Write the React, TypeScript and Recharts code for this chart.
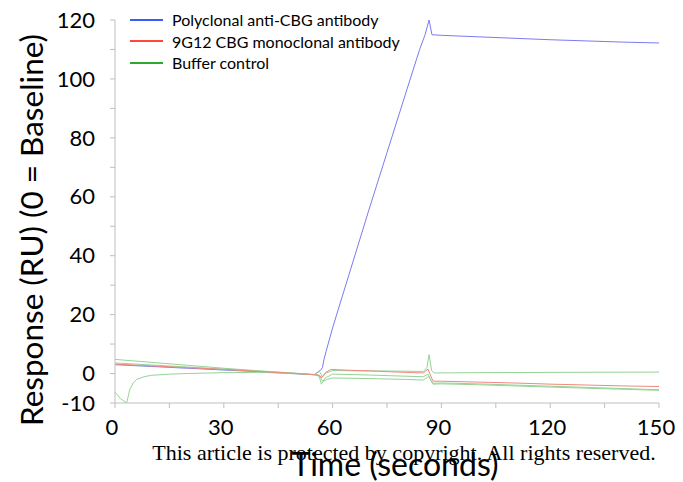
import React from 'react';
import { LineChart, Line, XAxis, YAxis } from 'recharts';

// Time points (s) and responses (RU)
const polyT = [0, 10, 20, 30, 40, 50, 55, 56, 56.6, 57.2, 57.6, 58.2, 60, 65, 70, 75, 80, 84, 85.5, 86.6, 87.4, 90, 100, 110, 120, 130, 140, 150];
const polyY = [3.0, 2.4, 1.8, 1.2, 0.6, -0.1, -0.4, 0.5, 1.0, 2.0, 4.7, 7.5, 15.5, 35.5, 55.5, 75, 94.5, 110, 115, 120, 115, 114.8, 114.3, 113.8, 113.3, 112.9, 112.5, 112.2];

const monoT = [0, 10, 20, 30, 40, 50, 55, 56.3, 57, 58, 59.5, 65, 70, 80, 85, 86.3, 87.7, 90, 100, 110, 120, 130, 140, 150];
const monoY = [3.2, 2.6, 2.0, 1.4, 0.7, 0.0, -0.4, -0.6, -1.4, 0.3, 1.4, 1.1, 0.9, 0.4, 0.2, 1.5, -2.6, -2.6, -2.9, -3.2, -3.6, -3.9, -4.2, -4.4];

const buf1T = [0, 10, 20, 30, 40, 50, 55, 56.3, 57.2, 58.2, 60, 70, 80, 85, 86, 86.6, 87.3, 88, 100, 120, 150];
const buf1Y = [4.8, 3.8, 2.8, 1.8, 0.9, 0.1, -0.3, 0.9, -1.2, 0.2, 1.0, 0.9, 0.8, 0.7, 2.0, 6.4, 1.0, 0.2, 0.3, 0.4, 0.5];

const buf2T = [0, 10, 20, 30, 40, 50, 55, 56.2, 56.9, 58, 60, 70, 80, 85, 86.3, 87.6, 90, 100, 120, 150];
const buf2Y = [3.6, 2.9, 2.2, 1.5, 0.8, 0.0, -0.4, -0.5, -3.6, -1.5, -0.2, -0.5, -0.9, -1.1, -0.2, -3.3, -3.2, -3.5, -4.3, -5.5];

const buf3T = [0, 1.5, 3.2, 4.1, 5, 6, 8, 10, 15, 20, 30, 40, 50, 55, 56.5, 57.2, 58.5, 60, 70, 80, 85, 86.5, 87.7, 90, 100, 120, 150];
const buf3Y = [-6.3, -8.5, -10, -5.4, -3.2, -2.0, -1.1, -0.6, -0.2, 0.0, 0.3, 0.4, 0.0, -0.4, -1.0, -2.6, -2.0, -1.5, -1.7, -2.0, -2.2, -1.0, -3.6, -3.5, -3.8, -4.6, -5.7];

const xTicks = [0, 15, 30, 45, 60, 75, 90, 105, 120, 135, 150];
const xLabels = [0, 30, 60, 90, 120, 150];
const yTicks = [-10, 0, 10, 20, 30, 40, 50, 60, 70, 80, 90, 100, 110, 120];
const yLabels = [-10, 0, 20, 40, 60, 80, 100, 120];

const legendItems = [
    { name: 'Polyclonal anti-CBG antibody', color: '#3a5cff' },
    { name: '9G12 CBG monoclonal antibody', color: '#ff4a3a' },
    { name: 'Buffer control', color: '#2fa82f' },
];

const zip = (t: number[], y: number[]) => t.map((x, i) => ({ t: x, v: y[i] }));

const FONT = 'Lato, "Open Sans", sans-serif';

const XTick = ({ x, y, payload }: any) =>
    xLabels.includes(payload.value) ? (
        <text x={x - 3} y={y} dy="0.71em" textAnchor="middle" fontSize={22} fontFamily={FONT} fill="#000">
            {payload.value}
        </text>
    ) : null;

const YTick = ({ x, y, payload }: any) =>
    yLabels.includes(payload.value) ? (
        <text x={x} y={y} dy="0.35em" textAnchor="end" fontSize={22} fontFamily={FONT} fill="#000">
            {payload.value}
        </text>
    ) : null;

export default function App() {
    return (
        <div style={{ position: 'absolute', left: 0, top: 0, width: 683, height: 482, background: '#fff' }}>
            <LineChart width={683} height={482} margin={{ top: 20, right: 24, left: 0, bottom: 0 }}>
                <XAxis
                    type="number"
                    dataKey="t"
                    domain={[0, 150]}
                    ticks={xTicks}
                    interval={0}
                    stroke="#bfbfbf"
                    tickSize={5}
                    tickMargin={11}
                    tick={<XTick />}
                    height={79}
                    allowDuplicatedCategory={false}
                />
                <YAxis
                    type="number"
                    domain={[-10, 120]}
                    ticks={yTicks}
                    interval={0}
                    stroke="#bfbfbf"
                    tickSize={5}
                    tickMargin={15}
                    tick={<YTick />}
                    width={115}
                    allowDataOverflow
                />
                <Line data={zip(polyT, polyY)} dataKey="v" name="Polyclonal anti-CBG antibody" stroke="#7b7bf2" strokeWidth={1} dot={false} isAnimationActive={false} />
                <Line data={zip(buf1T, buf1Y)} dataKey="v" name="Buffer control" stroke="#95d495" strokeWidth={1} dot={false} isAnimationActive={false} />
                <Line data={zip(buf2T, buf2Y)} dataKey="v" name="Buffer control 2" stroke="#95d495" strokeWidth={1} dot={false} isAnimationActive={false} />
                <Line data={zip(buf3T, buf3Y)} dataKey="v" name="Buffer control 3" stroke="#95d495" strokeWidth={1} dot={false} isAnimationActive={false} />
                <Line data={zip(monoT, monoY)} dataKey="v" name="9G12 CBG monoclonal antibody" stroke="#f0897e" strokeWidth={1} dot={false} isAnimationActive={false} />
                <text x={31} y={230} transform="rotate(-90 31 230)" textAnchor="middle" dominantBaseline="central" fontSize={31.5} fontFamily={FONT} fill="#000">
                    Response (RU) (0 = Baseline)
                </text>
                <text x={404} y={460} textAnchor="middle" fontSize={22} fontFamily='"Liberation Serif", "Times New Roman", serif' fill="#000">
                    This article is protected by copyright. All rights reserved.
                </text>
                <text x={395} y={476} textAnchor="middle" fontSize={32} fontFamily={FONT} fill="#000">
                    Time (seconds)
                </text>
            </LineChart>
            <div style={{ position: 'absolute', left: 130, top: 9, fontFamily: FONT, fontSize: 16, lineHeight: '21.5px', color: '#000' }}>
                {legendItems.map((it) => (
                    <div key={it.name} style={{ display: 'flex', alignItems: 'center' }}>
                        <span style={{ display: 'inline-block', width: 33, height: 2, background: it.color, marginRight: 9 }} />
                        {it.name}
                    </div>
                ))}
            </div>
        </div>
    );
}
